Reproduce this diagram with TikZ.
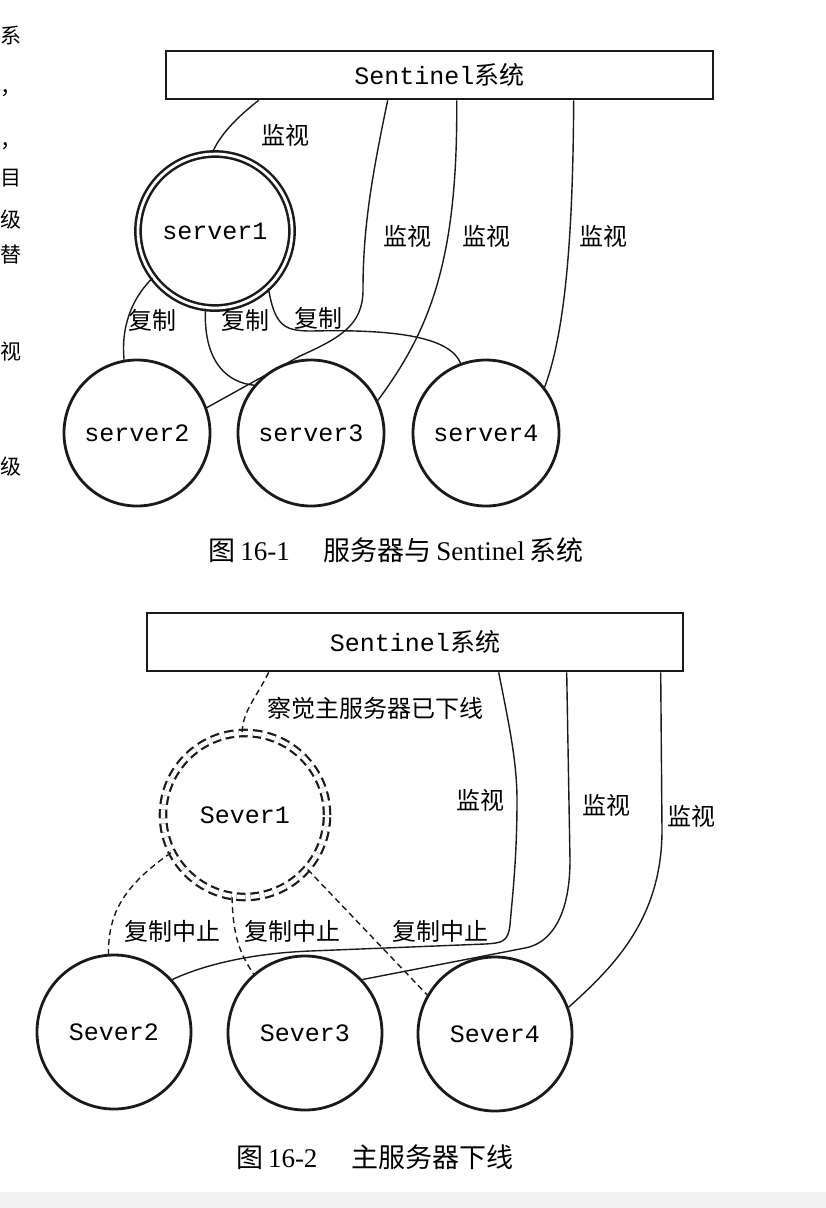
\documentclass[tikz,border=0pt]{standalone}
\usepackage{fontspec}
\setmainfont{Liberation Serif}
\setmonofont{Liberation Mono}
\newfontfamily\cjk{Noto Sans CJK SC}
\usepackage{tikz}
\definecolor{pageGrey}{HTML}{F2F2F2}
\definecolor{inkBlack}{HTML}{1A1A1A}
\tikzset{
  sysbox/.style={rectangle, draw=inkBlack, line width=2.6pt, inner sep=0pt, font=\fontsize{25}{30}\selectfont},
  srvnode/.style={circle, draw=inkBlack, line width=2.8pt, inner sep=0pt, minimum size=146pt, font=\ttfamily\fontsize{25}{30}\selectfont},
  mastnode/.style={circle, draw=inkBlack, line width=2.5pt, double, double distance=2.8pt, inner sep=0pt, minimum size=154pt, font=\ttfamily\fontsize{25}{30}\selectfont},
  downnode/.style={mastnode, line width=2.2pt, double distance=4.2pt, minimum size=164pt, dash pattern=on 9pt off 5pt},
  link/.style={draw=inkBlack, line width=1.4pt},
  cutlink/.style={link, dash pattern=on 6pt off 4pt},
  lbl/.style={font=\cjk\fontsize{24}{28}\selectfont, inner sep=1pt},
  capt/.style={font=\fontsize{27}{32}\selectfont, inner sep=0pt},
  margchar/.style={font=\cjk\fontsize{21}{24}\selectfont, inner sep=0pt, anchor=west},
}

\begin{document}
\begin{tikzpicture}[x=1pt,y=-1pt]
  \useasboundingbox (0,0) rectangle (826,1208);
  \fill[pageGrey] (0,1192) rectangle (826,1208);

  % --- text of the page margin ---
  \node[margchar] (mg1) at (0,35) {系};
  \node[margchar, anchor=south west] (mg2) at (0,97) {，};
  \node[margchar, anchor=south west] (mg3) at (0,150) {，};
  \node[margchar] (mg4) at (0,178) {目};
  \node[margchar] (mg5) at (0,220) {级};
  \node[margchar] (mg6) at (0,255) {替};
  \node[margchar] (mg7) at (0,352) {视};
  \node[margchar] (mg8) at (0,467) {级};

  % --- figure 16-1 ---
  \node[sysbox, minimum width=547pt, minimum height=48pt] (sys1) at (439.5,75) {{\ttfamily Sentinel}{\cjk 系统}};

  \node[mastnode] (s1) at (215,231) {server1};
  \node[srvnode] (s2) at (137,433) {server2};
  \node[srvnode] (s3) at (311,433) {server3};
  \node[srvnode] (s4) at (486,433) {server4};

  \draw[link] ([xshift=94pt]sys1.south west) .. controls (236,118) and (220,135) .. (s1.92);
  \draw[link] ([xshift=223pt]sys1.south west) .. controls (371,180) and (363,230) .. (363,290)
              .. controls (363,325) and (340,338) .. (300,356) -- (s2.20);
  \draw[link] ([xshift=292pt]sys1.south west) .. controls (458,260) and (430,330) .. (s3.26);
  \draw[link] ([xshift=409pt]sys1.south west) .. controls (573,230) and (566,330) .. (s4.38);

  \draw[link] (s1.217) .. controls (130,300) and (121,330) .. (s2.100);
  \draw[link] (s1.263) .. controls (203,365) and (230,383) .. (s3.140);
  \draw[link] (s1.313) .. controls (275,327) and (285,331) .. (312,331)
              .. controls (400,329) and (450,338) .. (s4.110);

  \node[lbl] (w1) at (285,135) {监视};
  \node[lbl] (w2) at (407,236) {监视};
  \node[lbl] (w3) at (486,236) {监视};
  \node[lbl] (w4) at (603,236) {监视};
  \node[lbl] (c1) at (152,320) {复制};
  \node[lbl] (c2) at (245,320) {复制};
  \node[lbl] (c3) at (318,318) {复制};

  \node[capt] (cap1) at (396,550) {{\cjk 图}\,16-1\hspace{34pt}{\cjk 服务器与}\,Sentinel\,{\cjk 系统}};

  % --- figure 16-2 ---
  \node[sysbox, minimum width=536pt, minimum height=58pt] (sys2) at (415,642) {{\ttfamily Sentinel}{\cjk 系统}};

  \node[downnode] (v1) at (245,815) {Sever1};
  \node[srvnode, minimum size=154pt] (v2) at (114,1032) {Sever2};
  \node[srvnode, minimum size=154pt] (v3) at (305,1033) {Sever3};
  \node[srvnode, minimum size=154pt] (v4) at (495,1034) {Sever4};

  \draw[cutlink] ([xshift=123pt]sys2.south west) .. controls (258,695) and (243,710) .. (v1.92);

  \draw[link] ([xshift=353pt]sys2.south west) .. controls (508,720) and (517,760) .. (517,800)
              .. controls (517,860) and (512,900) .. (510,925)
              .. controls (508,942) and (502,943) .. (485,944) -- (310,951)
              .. controls (260,953) and (210,962) .. (v2.42);
  \draw[link] ([xshift=421pt]sys2.south west) -- (570,860)
              .. controls (570,920) and (548,944) .. (525,948) -- (v3.43);
  \draw[link] ([xshift=515pt]sys2.south west) -- (662,830)
              .. controls (662,920) and (612,968) .. (v4.20);

  \draw[cutlink] (v1.207) .. controls (125,885) and (108,912) .. (v2.94);
  \draw[cutlink] (v1.261) .. controls (233,930) and (237,950) .. (v3.131);
  \draw[cutlink] (v1.319) -- (v4.150);

  \node[lbl] (d0) at (375,708) {察觉主服务器已下线};
  \node[lbl] (m1) at (480,800) {监视};
  \node[lbl] (m2) at (606,805) {监视};
  \node[lbl] (m3) at (691,816) {监视};
  \node[lbl] (r1) at (172,931) {复制中止};
  \node[lbl] (r2) at (292,931) {复制中止};
  \node[lbl] (r3) at (440,931) {复制中止};

  \node[capt] (cap2) at (375,1157) {{\cjk 图}\,16-2\hspace{34pt}{\cjk 主服务器下线}};
\end{tikzpicture}
\end{document}
